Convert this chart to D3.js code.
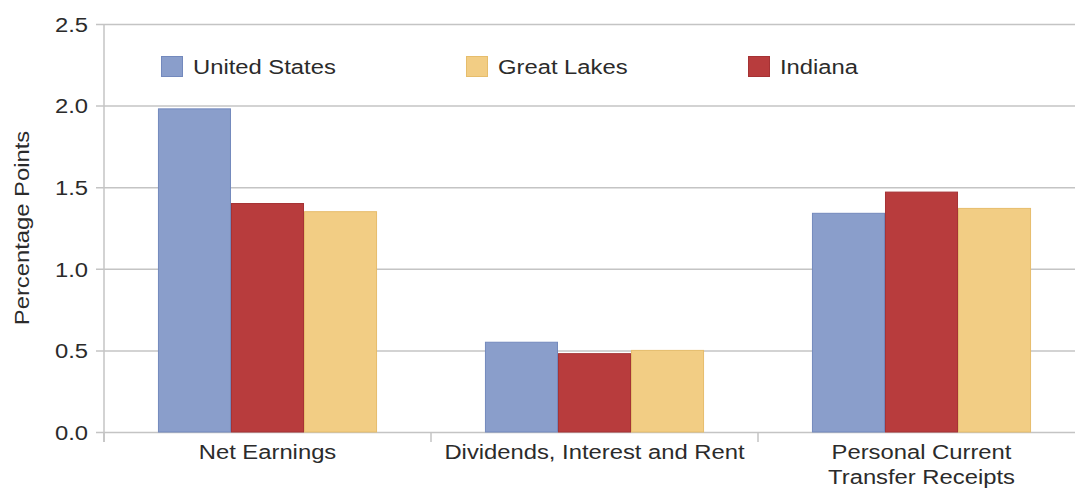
<!DOCTYPE html>
<html>
<head>
<meta charset="utf-8">
<script src="https://cdn.jsdelivr.net/npm/d3@7"></script>
<style>
  html, body { margin: 0; padding: 0; background: #fff; }
  svg { display: block; }
  text { font-family: "Liberation Sans", Arial, Helvetica, sans-serif; fill: #2b2b2b; }
</style>
</head>
<body>
<svg id="chart" width="1075" height="490"></svg>
<script>
// ---- data ----
const categories = ["Net Earnings", "Dividends, Interest and Rent", "Personal Current\nTransfer Receipts"];
const barSeries = ["United States", "Indiana", "Great Lakes"];      // order of bars within a group
const legendSeries = ["United States", "Great Lakes", "Indiana"];   // order in legend
const unitedStates = [1.98, 0.55, 1.34];
const indiana = [1.40, 0.48, 1.47];
const greatLakes = [1.35, 0.50, 1.37];
const yTicks = [0, 0.5, 1.0, 1.5, 2.0, 2.5];
const yLabel = "Percentage Points";

const valuesBySeries = {
  "United States": unitedStates,
  "Indiana": indiana,
  "Great Lakes": greatLakes
};
const fills = { "United States": "#8a9ecb", "Indiana": "#b83c3d", "Great Lakes": "#f2cd84" };
const strokes = { "United States": "#7389bd", "Indiana": "#a53234", "Great Lakes": "#e6bd6c" };

// ---- layout ----
const svg = d3.select("#chart");
const mLeft = 104, mRight = 1085, mTop = 24, mBottom = 432;
const SX = 1.19;      // horizontal glyph stretch
const FS = 20;

const x0 = d3.scaleBand().domain(categories).range([mLeft, mRight]).padding(0);
const groupFrac = 0.67;
const x1 = d3.scaleBand().domain(barSeries)
  .range([x0.bandwidth() * (1 - groupFrac) / 2, x0.bandwidth() * (1 + groupFrac) / 2])
  .padding(0);
const y = d3.scaleLinear().domain([0, 2.5]).range([mBottom, mTop]);

// grid + y axis
const yAxis = d3.axisLeft(y).tickValues(yTicks).tickFormat(d3.format(".1f"))
  .tickSize(-(1075 - mLeft + 10)).tickPadding(0);
const gy = svg.append("g").attr("transform", `translate(${mLeft},0)`).call(yAxis);
gy.select(".domain").remove();
gy.selectAll(".tick line").attr("x1", -8).attr("stroke", "#c4c4c4").attr("stroke-width", 1.5);
gy.selectAll(".tick text")
  .attr("x", null).attr("dy", "0.36em")
  .attr("text-anchor", "end")
  .attr("transform", `translate(-16,0) scale(${SX},1)`)
  .attr("font-size", FS).attr("fill", "#2b2b2b")
  .style("font-family", '"Liberation Sans", Arial, sans-serif');

// vertical axis line
svg.append("line").attr("x1", mLeft).attr("x2", mLeft).attr("y1", y(2.5)).attr("y2", mBottom + 10)
  .attr("stroke", "#c4c4c4").attr("stroke-width", 1.5);

// bottom category ticks at band boundaries
const boundaries = categories.map(c => x0(c)).concat([x0(categories[categories.length - 1]) + x0.bandwidth()]);
svg.append("g").selectAll("line").data(boundaries).join("line")
  .attr("x1", d => d).attr("x2", d => d).attr("y1", mBottom).attr("y2", mBottom + 10)
  .attr("stroke", "#c4c4c4").attr("stroke-width", 1.5);

// bars
const groups = svg.append("g").selectAll("g").data(categories).join("g")
  .attr("transform", c => `translate(${x0(c)},0)`);
groups.selectAll("rect")
  .data((c, i) => barSeries.map(s => ({ s, v: valuesBySeries[s][i] })))
  .join("rect")
  .attr("x", d => x1(d.s) + 0.5)
  .attr("width", x1.bandwidth() - 1)
  .attr("y", d => y(d.v))
  .attr("height", d => mBottom - y(d.v))
  .attr("fill", d => fills[d.s])
  .attr("stroke", d => strokes[d.s])
  .attr("stroke-width", 1);

// category labels
const labelG = svg.append("g");
categories.forEach(c => {
  const cx = x0(c) + x0.bandwidth() / 2;
  c.split("\n").forEach((line, j) => {
    labelG.append("text")
      .attr("transform", `translate(${cx},${459 + j * 25}) scale(${SX},1)`)
      .attr("text-anchor", "middle")
      .attr("font-size", FS)
      .text(line);
  });
});

// y-axis title
svg.append("text")
  .attr("transform", `translate(29,${y(1.25)}) rotate(-90) scale(${SX},1)`)
  .attr("text-anchor", "middle")
  .attr("font-size", FS)
  .text(yLabel);

// legend
const legendX = [161, 466, 748];
const lg = svg.append("g").selectAll("g").data(legendSeries).join("g")
  .attr("transform", (d, i) => `translate(${legendX[i]},56)`);
lg.append("rect").attr("x", 0.5).attr("y", 0.5).attr("width", 21).attr("height", 20)
  .attr("fill", d => fills[d]).attr("stroke", d => strokes[d]);
lg.append("text")
  .attr("transform", `translate(32,18) scale(${SX},1)`)
  .attr("font-size", FS)
  .text(d => d);
</script>
</body>
</html>
